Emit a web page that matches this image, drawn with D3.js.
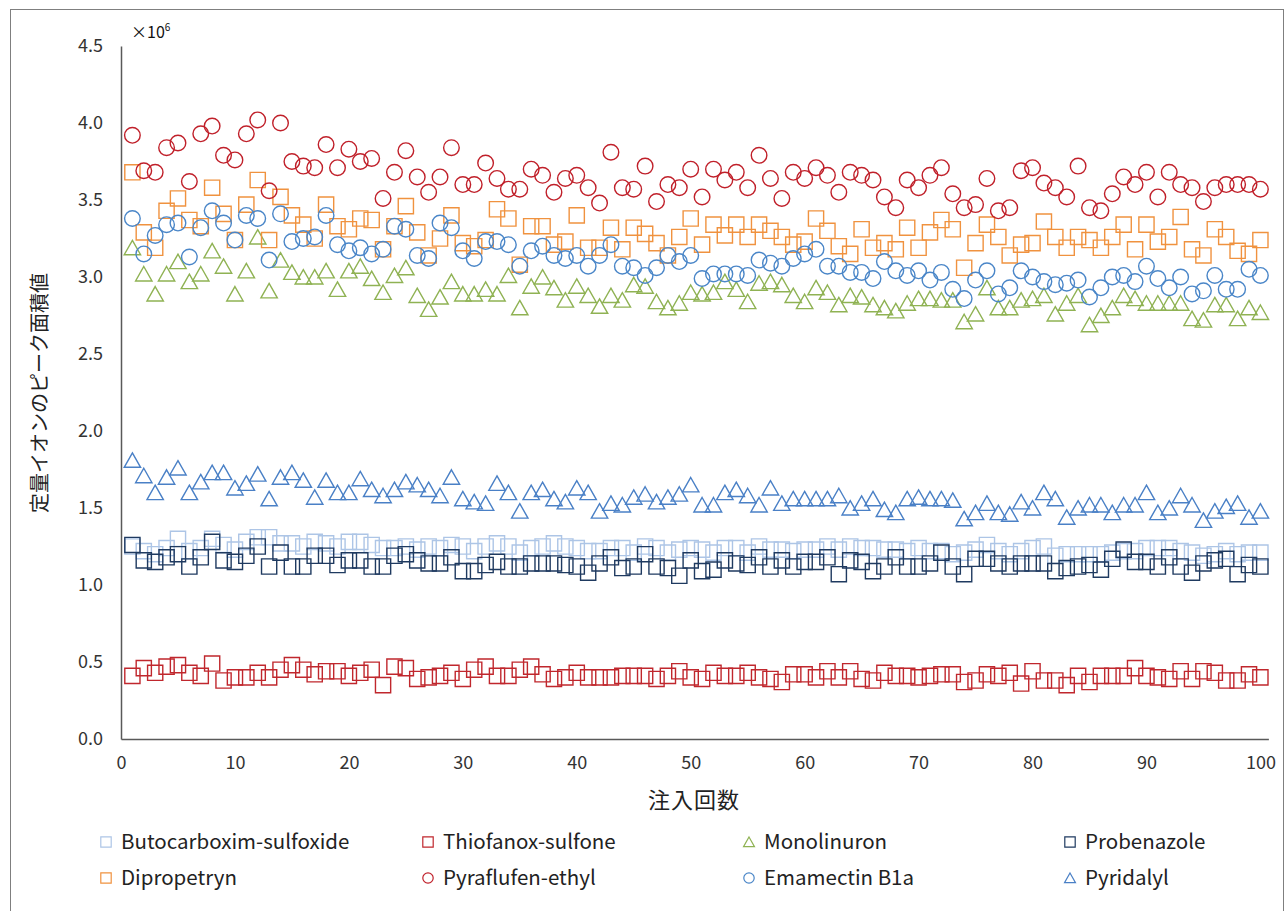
<!DOCTYPE html>
<html><head><meta charset="utf-8">
<script src="https://cdn.jsdelivr.net/npm/d3@7/dist/d3.min.js"></script>
<style>
html,body{margin:0;padding:0;background:#fff;}
svg{display:block;font-family:"Noto Sans CJK JP","Noto Sans",sans-serif;}
</style></head>
<body>
<svg id="chart" width="1285" height="911"></svg>
<script>
// injections 1..100, values in units of 10^6
const injections = d3.range(1, 101);
const xTicks = [0,10,20,30,40,50,60,70,80,90,100];
const yTicks = [0,0.5,1,1.5,2,2.5,3,3.5,4,4.5];
const seriesNames = ["Butocarboxim-sulfoxide","Thiofanox-sulfone","Monolinuron","Probenazole","Dipropetryn","Pyraflufen-ethyl","Emamectin B1a","Pyridalyl"];

const butocarboxim = [1.25,1.22,1.20,1.24,1.30,1.22,1.24,1.30,1.26,1.23,1.28,1.31,1.31,1.27,1.27,1.25,1.28,1.27,1.25,1.28,1.28,1.26,1.24,1.24,1.25,
1.23,1.25,1.24,1.26,1.25,1.22,1.25,1.27,1.25,1.21,1.24,1.25,1.27,1.25,1.24,1.22,1.22,1.24,1.24,1.21,1.25,1.24,1.21,1.23,1.24,1.23,
1.21,1.24,1.24,1.21,1.25,1.23,1.23,1.22,1.23,1.23,1.25,1.23,1.25,1.24,1.24,1.23,1.23,1.22,1.24,1.22,1.22,1.20,1.21,1.23,1.26,
1.22,1.20,1.22,1.24,1.25,1.19,1.20,1.20,1.20,1.20,1.21,1.22,1.22,1.24,1.24,1.24,1.22,1.21,1.19,1.20,1.22,1.20,1.21,1.21];

const thiofanox = [0.41,0.46,0.43,0.47,0.48,0.43,0.41,0.49,0.38,0.40,0.40,0.43,0.40,0.45,0.48,0.45,0.42,0.44,0.44,0.41,0.43,0.45,0.35,0.47,0.46,
0.39,0.40,0.41,0.43,0.39,0.45,0.47,0.41,0.41,0.45,0.47,0.42,0.39,0.40,0.43,0.40,0.40,0.40,0.41,0.41,0.41,0.39,0.41,0.44,0.40,
0.39,0.43,0.41,0.41,0.43,0.40,0.39,0.37,0.42,0.42,0.40,0.44,0.40,0.44,0.39,0.38,0.43,0.41,0.41,0.40,0.41,0.42,0.42,0.37,0.38,
0.42,0.41,0.43,0.36,0.44,0.38,0.38,0.35,0.41,0.37,0.41,0.41,0.41,0.46,0.41,0.40,0.39,0.44,0.39,0.44,0.43,0.38,0.38,0.42,0.40];

const monolinuron = [3.19,3.02,2.89,3.02,3.10,2.97,3.02,3.17,3.07,2.89,3.04,3.26,2.91,3.11,3.03,3.00,3.00,3.04,2.92,3.04,3.07,2.99,2.90,3.01,3.06,
2.88,2.79,2.87,2.97,2.89,2.89,2.92,2.89,3.01,2.80,2.94,3.00,2.93,2.85,2.94,2.88,2.81,2.88,2.85,2.95,2.94,2.84,2.80,2.83,2.90,2.89,
2.90,2.97,2.92,2.84,2.96,2.97,2.95,2.88,2.84,2.93,2.90,2.82,2.88,2.87,2.82,2.80,2.78,2.83,2.86,2.86,2.85,2.85,2.71,2.76,2.93,
2.80,2.80,2.85,2.86,2.88,2.76,2.83,2.88,2.69,2.75,2.80,2.88,2.86,2.83,2.83,2.83,2.83,2.73,2.72,2.82,2.82,2.73,2.80,2.77];

const probenazole = [1.26,1.16,1.15,1.18,1.20,1.12,1.18,1.28,1.16,1.15,1.19,1.25,1.12,1.21,1.12,1.12,1.19,1.19,1.13,1.16,1.16,1.12,1.12,1.19,1.20,
1.16,1.14,1.14,1.18,1.09,1.09,1.13,1.15,1.12,1.12,1.14,1.14,1.14,1.13,1.12,1.08,1.14,1.18,1.11,1.12,1.20,1.12,1.11,1.06,1.16,1.09,
1.10,1.16,1.14,1.13,1.18,1.12,1.16,1.12,1.15,1.15,1.18,1.07,1.16,1.15,1.09,1.12,1.18,1.12,1.12,1.14,1.21,1.12,1.07,1.17,1.17,
1.14,1.12,1.14,1.14,1.14,1.09,1.11,1.12,1.13,1.10,1.17,1.23,1.15,1.15,1.12,1.18,1.12,1.08,1.14,1.16,1.17,1.07,1.13,1.12];

const dipropetryn = [3.68,3.29,3.19,3.43,3.51,3.37,3.33,3.58,3.41,3.24,3.47,3.63,3.24,3.52,3.40,3.34,3.25,3.47,3.33,3.31,3.38,3.37,3.18,3.33,3.46,
3.29,3.14,3.25,3.40,3.22,3.20,3.24,3.44,3.38,3.08,3.33,3.33,3.21,3.23,3.40,3.19,3.19,3.32,3.18,3.32,3.28,3.22,3.14,3.26,3.38,3.21,
3.34,3.27,3.34,3.26,3.34,3.30,3.26,3.21,3.23,3.38,3.30,3.20,3.15,3.31,3.19,3.22,3.18,3.32,3.19,3.29,3.37,3.31,3.06,3.22,3.34,
3.26,3.14,3.21,3.22,3.36,3.26,3.19,3.26,3.24,3.19,3.26,3.34,3.18,3.34,3.23,3.26,3.39,3.18,3.14,3.31,3.26,3.17,3.15,3.24];

const pyraflufen = [3.92,3.69,3.68,3.84,3.87,3.62,3.93,3.98,3.79,3.76,3.93,4.02,3.56,4.00,3.75,3.72,3.71,3.86,3.71,3.83,3.75,3.77,3.51,3.68,3.82,
3.65,3.55,3.65,3.84,3.60,3.60,3.74,3.64,3.57,3.57,3.70,3.66,3.55,3.64,3.66,3.58,3.48,3.81,3.58,3.57,3.72,3.49,3.60,3.58,3.70,3.52,
3.70,3.63,3.68,3.58,3.79,3.64,3.51,3.68,3.64,3.71,3.66,3.55,3.68,3.66,3.63,3.52,3.45,3.63,3.58,3.66,3.71,3.54,3.45,3.47,3.64,
3.43,3.45,3.69,3.71,3.61,3.58,3.52,3.72,3.45,3.43,3.54,3.65,3.60,3.68,3.52,3.68,3.60,3.58,3.49,3.58,3.60,3.60,3.60,3.57];

const emamectin = [3.38,3.15,3.27,3.34,3.35,3.13,3.32,3.43,3.35,3.24,3.40,3.38,3.11,3.41,3.23,3.25,3.26,3.40,3.21,3.17,3.19,3.15,3.18,3.33,3.31,
3.14,3.12,3.35,3.32,3.17,3.12,3.23,3.23,3.21,3.07,3.17,3.20,3.14,3.12,3.14,3.07,3.14,3.21,3.07,3.06,3.01,3.06,3.14,3.10,3.14,2.99,
3.02,3.02,3.02,3.01,3.11,3.09,3.07,3.12,3.15,3.18,3.07,3.07,3.03,3.03,2.99,3.10,3.04,3.01,3.04,2.98,3.03,2.92,2.86,2.98,3.04,
2.89,2.93,3.04,3.00,2.97,2.95,2.96,2.98,2.87,2.93,3.00,3.01,2.97,3.07,2.99,2.93,3.00,2.89,2.91,3.01,2.92,2.92,3.05,3.01];

const pyridalyl = [1.81,1.71,1.60,1.70,1.76,1.60,1.67,1.73,1.73,1.63,1.66,1.72,1.56,1.70,1.73,1.68,1.57,1.68,1.60,1.60,1.69,1.62,1.58,1.62,1.67,
1.65,1.62,1.58,1.70,1.56,1.54,1.53,1.66,1.60,1.48,1.60,1.62,1.56,1.54,1.63,1.60,1.48,1.53,1.52,1.57,1.59,1.54,1.57,1.59,1.65,1.52,
1.52,1.60,1.62,1.58,1.52,1.63,1.53,1.56,1.56,1.56,1.56,1.58,1.50,1.53,1.56,1.49,1.47,1.56,1.57,1.56,1.56,1.55,1.43,1.47,1.53,
1.47,1.46,1.54,1.50,1.60,1.56,1.44,1.50,1.52,1.52,1.47,1.52,1.52,1.60,1.47,1.50,1.58,1.52,1.42,1.48,1.51,1.53,1.44,1.48];

const seriesValues = [butocarboxim, thiofanox, monolinuron, probenazole, dipropetryn, pyraflufen, emamectin, pyridalyl];
const seriesShapes = ["square","square","triangle","square","square","circle","circle","triangle"];
const seriesColors = ["#adc5e6","#c0272d","#8fb253","#1f3a60","#f0923f","#c0202a","#4a86c8","#4a80c6"];

const svg = d3.select("#chart");
svg.append("rect").attr("x",0).attr("y",0).attr("width",1285).attr("height",911).attr("fill","#fff");
svg.append("rect").attr("x",10.5).attr("y",9.5).attr("width",1273).attr("height",930)
   .attr("fill","none").attr("stroke","#7f7f7f").attr("stroke-width",1);

const x = d3.scaleLinear().domain([0, 100.7]).range([121, 121 + 100.7*11.394]);
const y = d3.scaleLinear().domain([0, 4.5]).range([739, 46]);

const xAxis = svg.append("g").attr("transform","translate(0,739)")
  .call(d3.axisBottom(x).tickValues(xTicks).tickSize(0).tickPadding(17).tickFormat(d3.format("d")));
const yAxis = svg.append("g").attr("transform","translate(121,0)")
  .call(d3.axisLeft(y).tickValues(yTicks).tickSize(0).tickPadding(18).tickFormat(d3.format(".1f")));
[xAxis,yAxis].forEach(g=>{
  g.select(".domain").attr("stroke","#595959").attr("stroke-width",1.5);
  g.selectAll("text").attr("font-size",18).attr("fill","#333").attr("font-family",'"Noto Sans CJK JP",sans-serif');
});

function shapePath(shape, s){
  if(shape==="circle"){ const p=d3.path(); p.arc(0,0,s,0,2*Math.PI); p.closePath(); return p.toString(); }
  if(shape==="square") return `M${-s},${-s}H${s}V${s}H${-s}Z`;
  return `M0,${-s*0.95}L${s*1.05},${s*0.9}L${-s*1.05},${s*0.9}Z`;
}

const plot = svg.append("g");
seriesValues.forEach((vals, i)=>{
  const size = seriesShapes[i]==="circle" ? 7.8 : seriesShapes[i]==="square" ? 7.6 : 7.8;
  plot.append("g").selectAll("path").data(vals).join("path")
    .attr("transform",(d,j)=>`translate(${x(injections[j])},${y(d)})`)
    .attr("d", shapePath(seriesShapes[i], size))
    .attr("fill","none").attr("stroke",seriesColors[i]).attr("stroke-width",1.4);
});

// unit label
const unit = svg.append("text").attr("x",131).attr("y",38).attr("font-size",16).attr("fill","#111");
unit.append("tspan").text("×10");
unit.append("tspan").attr("font-size",10).attr("dy",-7).text("6");

// axis titles
svg.append("text").attr("transform","translate(47,393) rotate(-90)").attr("text-anchor","middle")
  .attr("font-size",20).attr("fill","#222").text("定量イオンのピーク面積値");
svg.append("text").attr("x",694).attr("y",808).attr("text-anchor","middle")
  .attr("font-size",22).attr("letter-spacing",1).attr("fill","#222").text("注入回数");

// legend
const legendCols = [106, 428, 749, 1070];
const legendRows = [842, 878];
seriesNames.forEach((name, k)=>{
  const cx = legendCols[k%4], cy = legendRows[Math.floor(k/4)];
  const g = svg.append("g").attr("transform",`translate(${cx},${cy})`);
  g.append("path").attr("d", shapePath(seriesShapes[k], 5.2))
    .attr("fill","none").attr("stroke",seriesColors[k]).attr("stroke-width",1.2);
  g.append("text").attr("x",15).attr("y",0).attr("dy","0.35em").attr("font-size",20.5)
    .attr("fill","#222").text(name);
});
</script>
</body></html>
